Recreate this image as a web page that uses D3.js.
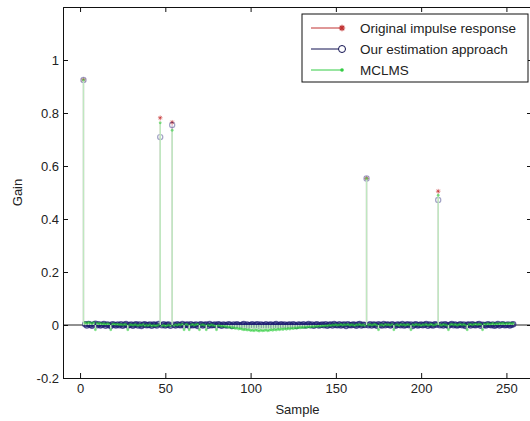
<!DOCTYPE html>
<html>
<head>
<meta charset="utf-8">
<title>Impulse response estimate</title>
<script src="https://d3js.org/d3.v7.min.js"></script>
<style>
  body { margin: 0; background: #fff; }
  svg { display: block; font-family: 'Liberation Sans', Arial, sans-serif; }
  .tick text { font-size: 13px; fill: #222; }
</style>
</head>
<body>
<div id="chart"></div>
<script>
// first sample index of the dense series below
const firstSample = 2;

// original impulse response: non-zero taps only
const origTaps = [2, 47, 54, 168, 210];
const origGains = [0.925, 0.782, 0.765, 0.553, 0.505];

// our estimation approach, samples 2..254
const estimate = [
  .925, .003, -.002, .004, .001, -.003, .002, .005, -.001, .003,
  -.002, .001, .004, -.003, .002, .000, -.004, .003, .001, -.002,
  .002, -.001, .003, -.003, .001, .004, -.002, .000, .002, -.003,
  .001, .003, -.002, .002, -.004, .001, .003, -.001, .000, .002,
  -.003, .002, .001, -.002, .004, .709, -.001, .003, -.002, .001,
  .002, -.003, .755, .001, -.002, .003, .000, -.001, .004, -.002,
  .001, .002, -.003, .003, -.001, .000, .002, -.004, .001, .003,
  -.002, .001, .002, -.003, .004, -.001, .000, .002, -.002, .003,
  .001, -.003, .002, .000, -.002, .003, .001, -.004, .002, -.001,
  .003, .000, -.002, .001, .004, -.003, .002, -.001, .000, .003,
  -.002, .001, .003, -.004, .002, .000, -.001, .003, -.002, .001,
  .002, -.003, .001, .004, -.002, .000, .003, -.001, .002, -.003,
  .001, .002, -.002, .003, .000, -.004, .002, .001, -.001, .003,
  -.002, .000, .004, -.001, .002, -.003, .001, .003, -.002, .000,
  .002, -.001, .003, -.003, .001, .002, -.002, .004, .000, -.001,
  .003, -.002, .001, .002, -.004, .003, .000, -.001, .002, .001,
  -.003, .002, .004, -.002, .001, .000, .553, -.001, .003, -.002,
  .002, .001, -.003, .003, .000, -.002, .004, -.001, .002, .001,
  -.002, .003, .000, -.003, .002, .001, -.001, .004, -.002, .000,
  .003, -.001, .002, -.004, .001, .003, -.002, .000, .002, -.001,
  .001, .004, -.003, .002, .000, -.002, .003, .001, .472, -.001,
  .002, -.002, .003, .000, -.003, .001, .004, -.001, .002, -.002,
  .000, .003, -.001, .002, -.004, .001, .002, -.002, .003, .000,
  -.001, .002, .004, -.003, .001, .000, -.002, .003, .001, -.001,
  .002, -.003, .000, .004, -.002, .001, .003, -.001, .000, .002,
  -.002, .001, .003
];

// MCLMS, samples 2..254
const mclms = [
  .925, .009, .007, .010, .008, .006, .009, -.018, .007, .005,
  .006, .004, .005, .003, .005, .004, -.018, .003, .004, .002,
  .003, .001, .002, .000, .002, .001, -.018, .000, .001, -.001,
  .001, .000, -.002, .001, -.001, .002, -.003, .000, -.002, .001,
  -.004, -.001, -.003, -.002, .000, .763, -.003, -.001, -.004, -.002,
  .000, -.003, .735, -.002, .001, -.001, .002, .000, .003, -.018,
  .002, .001, -.018, .000, .002, -.001, .001, .003, -.018, .000,
  .001, -.001, -.018, .000, -.002, .001, -.001, -.003, -.018, -.002,
  -.003, -.005, -.004, -.007, -.006, -.009, -.008, -.011, -.010, -.013,
  -.012, -.015, -.014, -.016, -.018, -.017, -.019, -.018, -.021, -.020,
  -.022, -.019, -.021, -.023, -.020, -.022, -.021, -.019, -.022, -.020,
  -.018, -.020, -.017, -.019, -.016, -.018, -.015, -.017, -.014, -.016,
  -.013, -.015, -.012, -.014, -.011, -.012, -.010, -.011, -.009, -.010,
  -.008, -.009, -.007, -.008, -.006, -.007, -.005, -.006, -.004, -.005,
  -.003, -.004, -.002, -.003, -.001, -.002, .000, -.001, .001, -.001,
  .000, .002, -.001, .001, .000, .002, -.001, .001, .000, -.002,
  .001, .000, .002, -.001, .001, -.002, .553, .000, .002, -.001,
  .001, .002, -.001, -.018, .000, .001, -.002, .002, .000, .001,
  -.001, .002, -.018, .000, .001, -.002, .002, .000, .001, -.001,
  .002, .000, -.018, .001, -.001, .002, .000, .001, -.002, .001,
  .000, .002, -.001, .001, .003, -.001, .000, .002, .490, .001,
  -.001, .002, .000, -.001, -.018, .001, .003, .000, .002, -.001,
  .001, .003, .000, .002, -.001, -.018, .001, .003, .000, .002,
  .004, .001, .003, .002, -.018, .004, .002, .005, .003, .004,
  .006, .003, .005, .004, .006, .005, .007, .004, .006, .005,
  .007, .005, .006
];

const xTicks = [0, 50, 100, 150, 200, 250];
const yTicks = [-0.2, 0, 0.2, 0.4, 0.6, 0.8, 1];
const yTickLabels = ["-0.2", "0", "0.2", "0.4", "0.6", "0.8", "1"];
const legendLabels = ["Original impulse response", "Our estimation approach", "MCLMS"];

const W = 530, H = 421;
const svg = d3.select("#chart").append("svg").attr("width", W).attr("height", H);

const x = d3.scaleLinear().domain([-10, 265]).range([63, 532]);
const y = d3.scaleLinear().domain([-0.2, 1.2]).range([378, 7]);

const origPts = origTaps.map((s, i) => ({ s: s, v: origGains[i] }));
const estPts = estimate.map((v, i) => ({ s: firstSample + i, v: v }));
const mclPts = mclms.map((v, i) => ({ s: firstSample + i, v: v }));

const plot = svg.append("g");

// stem baseline
plot.append("line")
  .attr("x1", x(-10)).attr("x2", x(265))
  .attr("y1", y(0)).attr("y2", y(0))
  .attr("stroke", "#222").attr("stroke-width", 1);

// stems
function stems(pts, color, op) {
  plot.append("g").selectAll("line").data(pts).enter().append("line")
    .attr("x1", d => x(d.s)).attr("x2", d => x(d.s))
    .attr("y1", y(0)).attr("y2", d => y(d.v))
    .attr("stroke", color).attr("stroke-opacity", op).attr("stroke-width", 1.5);
}

function star(cx, cy, r) {
  const p = [];
  for (const a of [0, 45, 90, 135]) {
    const t = a * Math.PI / 180;
    p.push(`M${cx - r * Math.cos(t)},${cy - r * Math.sin(t)}L${cx + r * Math.cos(t)},${cy + r * Math.sin(t)}`);
  }
  return p.join("");
}

// original (red, *)
stems(origPts, "#e06060", 0.2);
plot.append("g").selectAll("path").data(origPts).enter().append("path")
  .attr("d", d => star(x(d.s), y(d.v), 2.3))
  .attr("stroke", "#c02020").attr("stroke-opacity", 0.55).attr("stroke-width", 1).attr("fill", "none");

// estimation (blue, o)
stems(estPts, "#4050c0", 0.15);
plot.append("g").selectAll("circle").data(estPts).enter().append("circle")
  .attr("cx", d => x(d.s)).attr("cy", d => y(d.v)).attr("r", 2.6)
  .attr("fill", "#1a1a70").attr("fill-opacity", d => Math.abs(d.v) > 0.1 ? 0 : 0.3)
  .attr("stroke", "#1a1a70")
  .attr("stroke-opacity", d => Math.abs(d.v) > 0.1 ? 0.4 : 0.65).attr("stroke-width", 1.2);

// MCLMS (green, .)
stems(mclPts, "#bfe8bf", 1);
plot.append("g").selectAll("circle").data(mclPts).enter().append("circle")
  .attr("cx", d => x(d.s)).attr("cy", d => y(d.v)).attr("r", 1.4)
  .attr("fill", "#22cc33").attr("fill-opacity", 0.55);

// axes, MATLAB style box with inward ticks
const ax = svg.append("g");
ax.append("g").attr("transform", `translate(0,${y(-0.2)})`)
  .call(d3.axisBottom(x).tickValues(xTicks).tickSize(-5).tickPadding(6).tickFormat(d3.format("d")));
ax.append("g").attr("transform", `translate(0,${y(1.2)})`)
  .call(d3.axisTop(x).tickValues(xTicks).tickSize(-5).tickFormat(""));
ax.append("g").attr("transform", `translate(${x(-10)},0)`)
  .call(d3.axisLeft(y).tickValues(yTicks).tickSize(-5).tickPadding(4)
    .tickFormat((d, i) => yTickLabels[i]));
ax.append("g").attr("transform", `translate(${x(265)},0)`)
  .call(d3.axisRight(y).tickValues(yTicks).tickSize(-5).tickFormat(""));
ax.selectAll(".domain").attr("stroke", "#111");
ax.selectAll(".tick line").attr("stroke", "#111");

svg.append("text").attr("x", (x(-10) + x(265)) / 2).attr("y", 414)
  .attr("text-anchor", "middle").attr("font-size", 13).attr("fill", "#222").text("Sample");
svg.append("text").attr("transform", `translate(22,${(y(-0.2) + y(1.2)) / 2}) rotate(-90)`)
  .attr("text-anchor", "middle").attr("font-size", 13).attr("fill", "#222").text("Gain");

// legend
const lg = svg.append("g");
lg.append("rect").attr("x", 302).attr("y", 14).attr("width", 226).attr("height", 68)
  .attr("fill", "#fff").attr("stroke", "#111");
const legColors = ["#c03030", "#101050", "#33cc44"];
legendLabels.forEach((lab, i) => {
  const cy = 28 + i * 21;
  lg.append("line").attr("x1", 311).attr("x2", 342).attr("y1", cy).attr("y2", cy)
    .attr("stroke", legColors[i]).attr("stroke-width", 1);
  if (i === 0) {
    lg.append("path").attr("d", star(342, cy, 3.2)).attr("stroke", "#c03030")
      .attr("stroke-width", 1.1).attr("fill", "none");
  } else if (i === 1) {
    lg.append("circle").attr("cx", 342).attr("cy", cy).attr("r", 3.5)
      .attr("fill", "#fff").attr("stroke", "#101050");
  } else {
    lg.append("circle").attr("cx", 342).attr("cy", cy).attr("r", 1.8).attr("fill", "#33cc44");
  }
  lg.append("text").attr("x", 360).attr("y", cy + 5).attr("font-size", 13.5)
    .attr("fill", "#222").text(lab);
});
</script>
</body>
</html>
